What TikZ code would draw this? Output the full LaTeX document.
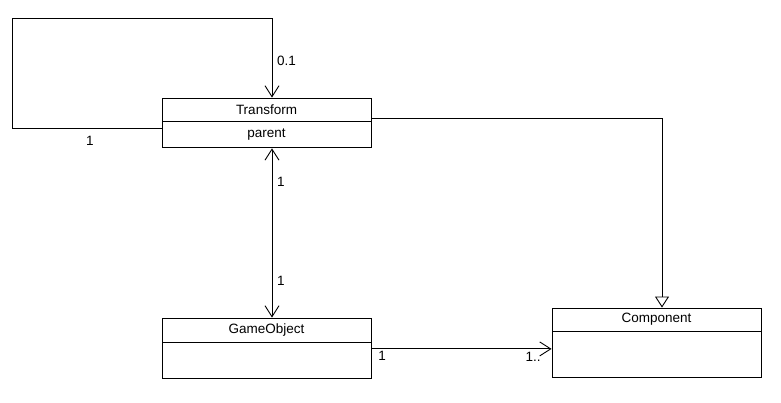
\documentclass[tikz,border=0pt]{standalone}
\usepackage{fontspec}
\setmainfont{Liberation Sans}
\usetikzlibrary{positioning,arrows.meta}
\tikzset{
 cls/.style={draw,line width=0.9pt,minimum width=209pt,inner sep=0pt,font=\fontsize{13.5}{16}\selectfont},
 lbl/.style={inner sep=1pt,font=\fontsize{13.5}{16}\selectfont},
 barb/.tip={Straight Barb[length=11pt,width=14pt]},
 assoc/.style={line width=0.9pt,-barb},
 both/.style={line width=0.9pt,barb-barb},
 gen/.style={line width=0.9pt,-{Triangle[open,length=11pt,width=14pt]}}
}
\begin{document}
\begin{tikzpicture}[x=1pt,y=-1pt]
 \useasboundingbox (0,0) rectangle (781,403); %canvas
 \node[cls,minimum height=23pt] (trh) at (266.5,109.5) {Transform}; %Transform header
 \node[cls,minimum height=26pt,below=0pt of trh] (trb) {parent}; %Transform attributes
 \node[cls,minimum height=24pt] (goh) at (266.5,330) {GameObject}; %GameObject header
 \node[cls,minimum height=36pt,below=0pt of goh] (gob) {}; %GameObject body
 \node[cls,minimum height=23pt] (cph) at (656.5,319.5) {Component}; %Component header
 \node[cls,minimum height=46pt,below=0pt of cph] (cpb) {}; %Component body
 \draw[assoc] ([yshift=6pt]trb.west) -| (12,18) -| ([xshift=5.5pt]trh.north); %parent self loop
 \node[lbl,right] (l01) at (276,61) {0.1};
 \node[lbl] (l1a) at (90,141) {1};
 \draw[both] ([xshift=5.5pt]trb.south) -- ([xshift=5.5pt]goh.north); %Transform <-> GameObject
 \node[lbl,right] (l1b) at (276,182) {1};
 \node[lbl,right] (l1c) at (276,281) {1};
 \draw[assoc] ([yshift=12pt]gob.east) -- ([yshift=12pt]gob.east -| cpb.west); %GameObject -> Component
 \node[lbl] (l1d) at (382,356) {1};
 \node[lbl] (l1e) at (533,357) {1..};
 \draw[gen] ([yshift=-8.5pt]trh.east) -| ([xshift=5.5pt]cph.north); %Transform is a Component
\end{tikzpicture}
\end{document}
